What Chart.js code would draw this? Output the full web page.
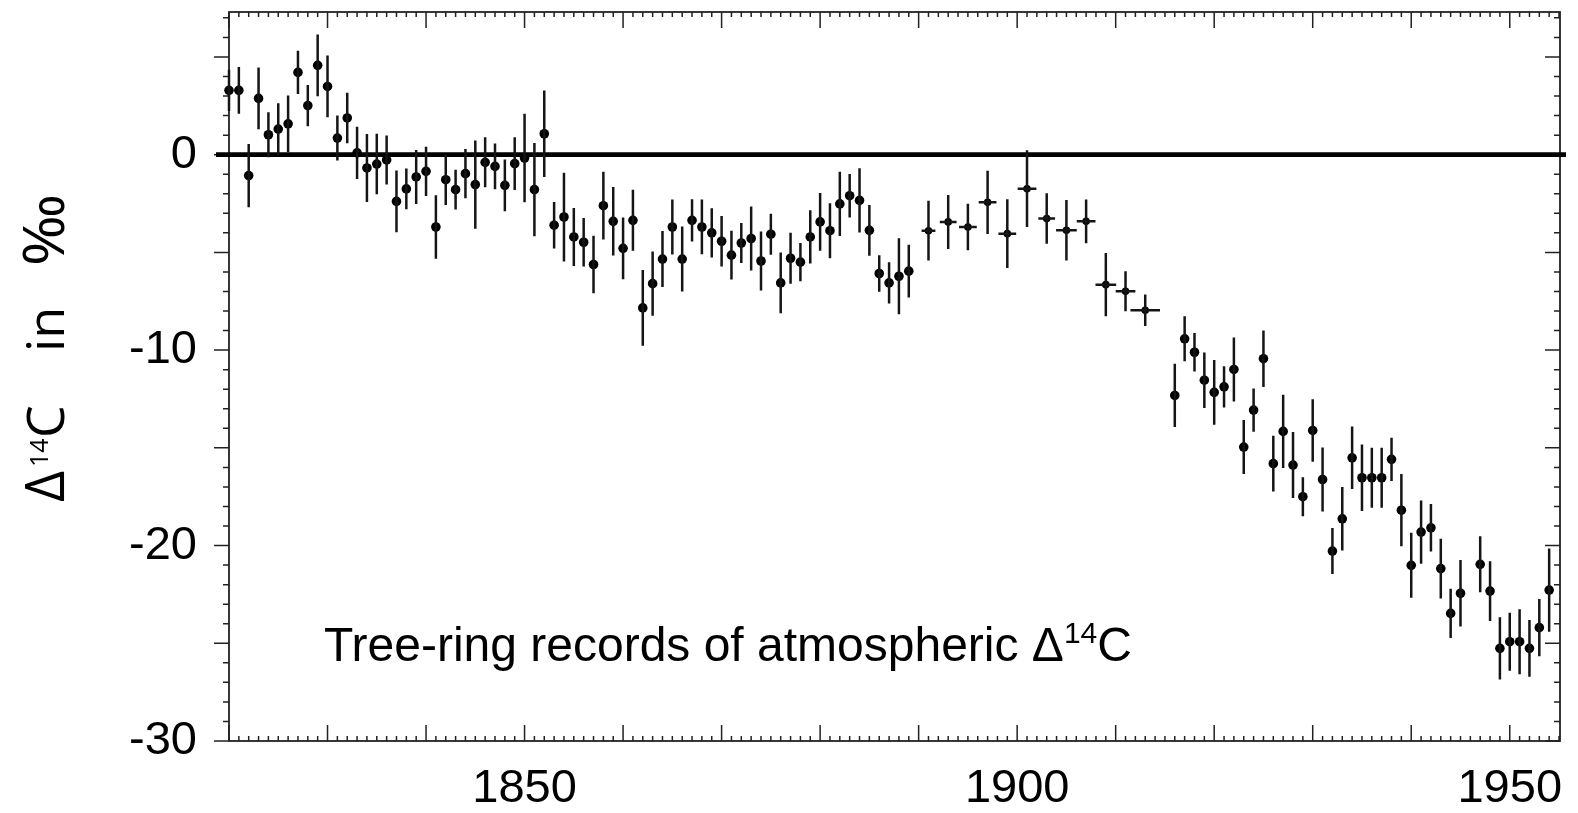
<!DOCTYPE html>
<html>
<head>
  <title>Tree-ring records of atmospheric D14C</title>
  <script src="https://cdn.jsdelivr.net/npm/chart.js"></script>
  <style>
    body { margin: 0; background: #fff; }
    #wrap { width: 1578px; height: 813px; position: relative; }
  </style>
</head>
<body>
  <div id="wrap"><canvas id="c14Chart"></canvas></div>

  <script>
    // Data (year, delta-14C in permil, 1-sigma)
    const years = [
      1820, 1821, 1822, 1823, 1824, 1825, 1826, 1827, 1828, 1829,
      1830, 1831, 1832, 1833, 1834, 1835, 1836, 1837, 1838, 1839,
      1840, 1841, 1842, 1843, 1844, 1845, 1846, 1847, 1848, 1849,
      1850, 1851, 1852, 1853, 1854, 1855, 1856, 1857, 1858, 1859,
      1860, 1861, 1862, 1863, 1864, 1865, 1866, 1867, 1868, 1869,
      1870, 1871, 1872, 1873, 1874, 1875, 1876, 1877, 1878, 1879,
      1880, 1881, 1882, 1883, 1884, 1885, 1886, 1887, 1888, 1889,
      1891, 1893, 1895, 1897, 1899, 1901, 1903, 1905, 1907, 1909, 1911, 1913,
      1916, 1917, 1918, 1919, 1920, 1921, 1922, 1923, 1924, 1925,
      1926, 1927, 1928, 1929, 1930, 1931, 1932, 1933, 1934, 1935,
      1936, 1937, 1938, 1939, 1940, 1941, 1942, 1943, 1944, 1945,
      1947, 1948, 1949, 1950, 1951, 1952, 1953, 1954
    ];
    const delta14C = [
      3.29, 3.29, -1.07, 2.88, 1.02, 1.31, 1.58, 4.21, 2.51, 4.57,
      3.49, 0.85, 1.88, 0.09, -0.68, -0.48, -0.27, -2.39, -1.75, -1.14,
      -0.85, -3.70, -1.28, -1.79, -0.97, -1.53, -0.39, -0.60, -1.57, -0.46,
      -0.17, -1.79, 1.07, -3.61, -3.19, -4.21, -4.48, -5.62, -2.61, -3.41,
      -4.79, -3.36, -7.84, -6.60, -5.34, -3.70, -5.34, -3.36, -3.70, -4.00,
      -4.43, -5.14, -4.52, -4.29, -5.44, -4.07, -6.56, -5.30, -5.50, -4.21,
      -3.44, -3.89, -2.52, -2.10, -2.34, -3.87, -6.08, -6.56, -6.22, -5.96,
      -3.89, -3.44, -3.70, -2.44, -4.04, -1.74, -3.27, -3.87, -3.41, -6.65, -6.99, -7.96,
      -12.32, -9.42, -10.11, -11.54, -12.16, -11.88, -10.99, -14.96, -13.07, -10.44,
      -15.81, -14.16, -15.88, -17.50, -14.11, -16.62, -20.28, -18.63, -15.51, -16.53,
      -16.53, -16.53, -15.59, -18.19, -21.01, -19.31, -19.09, -21.18, -23.47, -22.44,
      -20.96, -22.33, -25.26, -24.92, -24.92, -25.26, -24.20, -22.28
    ];
    const sigma = [
      1.06, 1.19, 1.62, 1.58, 1.15, 1.32, 1.45, 1.11, 1.06, 1.58,
      1.58, 1.15, 1.29, 1.34, 1.74, 1.55, 1.25, 1.58, 1.04, 1.38,
      1.26, 1.62, 1.30, 1.02, 1.26, 2.26, 1.28, 1.17, 1.32, 1.35,
      2.27, 2.39, 2.21, 1.19, 2.27, 1.48, 1.24, 1.47, 1.73, 1.75,
      1.58, 1.56, 1.94, 1.64, 1.43, 1.41, 1.66, 1.08, 1.40, 1.26,
      1.29, 1.25, 1.02, 1.64, 1.51, 1.05, 1.56, 1.30, 0.98, 1.36,
      1.48, 1.41, 1.64, 1.11, 1.64, 1.30, 0.94, 1.06, 1.94, 1.35,
      1.53, 1.38, 1.19, 1.62, 1.76, 1.96, 1.29, 1.55, 1.12, 1.62, 1.02, 0.81,
      1.62, 1.15, 0.98, 1.42, 1.66, 1.06, 1.64, 1.38, 1.11, 1.45,
      1.43, 1.87, 1.69, 1.00, 1.60, 1.64, 1.18, 1.62, 1.60, 1.70,
      1.53, 1.53, 1.11, 1.85, 1.66, 1.62, 1.22, 1.53, 1.26, 1.70,
      1.43, 1.53, 1.59, 1.48, 1.66, 1.45, 1.47, 2.13
    ];
    // multi-year samples: centre year and half the averaging span
    const avgYears = [1891, 1893, 1895, 1897, 1899, 1901, 1903, 1905, 1907, 1909, 1911, 1913];
    const avgHalfSpan = [0.7, 0.85, 0.9, 0.9, 0.9, 0.95, 0.85, 1.05, 0.95, 1.05, 1.0, 1.5];

    const xTickLabels = [1850, 1900, 1950];
    const yTickLabels = [-30, -20, -10, 0];

    const X_MIN = 1820, X_MAX = 1955.1;
    const Y_MIN = -30, Y_MAX = 7.3;
    const FONT = "'Liberation Sans', Arial, sans-serif";

    // error bars as broken line segments
    const bars = [];
    years.forEach((yr, i) => {
      const v = delta14C[i], e = sigma[i];
      bars.push({ x: yr, y: v - e }, { x: yr, y: v + e }, { x: yr, y: null });
      const k = avgYears.indexOf(yr);
      if (k >= 0) {
        bars.push({ x: yr - avgHalfSpan[k], y: v }, { x: yr + avgHalfSpan[k], y: v }, { x: yr, y: null });
      }
    });
    const points = years.map((yr, i) => ({ x: yr, y: delta14C[i] }));
    const radii = years.map(yr => avgYears.includes(yr) ? 3.8 : 4.8);

    // box, inward/outward ticks, zero line and texts
    const framePlugin = {
      id: 'frame',
      beforeDatasetsDraw(chart) {
        const { ctx, chartArea: a, scales: { x, y } } = chart;
        ctx.save();
        ctx.strokeStyle = '#222';
        ctx.lineWidth = 1.8;
        ctx.strokeRect(a.left, a.top, a.right - a.left, a.bottom - a.top);

        ctx.lineWidth = 1.5;
        ctx.beginPath();
        for (let yr = Math.ceil(x.min); yr <= x.max; yr++) {
          const px = x.getPixelForValue(yr);
          const len = yr % 10 === 0 ? 16 : 5;
          ctx.moveTo(px, a.bottom); ctx.lineTo(px, a.bottom - len);
          ctx.moveTo(px, a.top); ctx.lineTo(px, a.top + len);
        }
        for (let v = Math.ceil(y.min); v <= y.max; v++) {
          const py = y.getPixelForValue(v);
          const len = v % 5 === 0 ? 15 : 6;
          ctx.moveTo(a.left, py); ctx.lineTo(a.left - len, py);
          ctx.moveTo(a.right, py); ctx.lineTo(a.right - len, py);
        }
        ctx.stroke();

        // zero line, runs a bit past the box
        const y0 = y.getPixelForValue(0);
        ctx.strokeStyle = '#000';
        ctx.lineWidth = 4.6;
        ctx.beginPath();
        ctx.moveTo(a.left - 13, y0);
        ctx.lineTo(a.right + 6, y0);
        ctx.stroke();
        ctx.restore();
      },
      afterDraw(chart) {
        const { ctx, chartArea: a } = chart;
        ctx.save();
        ctx.fillStyle = '#000';
        ctx.textBaseline = 'alphabetic';
        ctx.textAlign = 'left';

        // annotation inside the plot
        let tx = a.left + 95, ty = a.bottom - 80;
        ctx.font = '48px ' + FONT;
        const t1 = 'Tree-ring records of atmospheric \u0394';
        ctx.fillText(t1, tx, ty);
        tx += ctx.measureText(t1).width;
        ctx.font = '30px ' + FONT;
        ctx.fillText('14', tx, ty - 18);
        tx += ctx.measureText('14').width;
        ctx.font = '48px ' + FONT;
        ctx.fillText('C', tx, ty);

        // y axis title, rotated, pieces placed along the text line
        ctx.translate(64, 502);
        ctx.rotate(-Math.PI / 2);
        const tf = "'Open Sans', sans-serif";
        ctx.font = '54px ' + tf;
        ctx.fillText('\u0394', 0, 0);
        ctx.font = '25px ' + tf;
        ctx.fillText('14', 35, -16);
        ctx.font = '52px ' + tf;
        ctx.fillText('C', 64, 0);
        ctx.fillText('in', 150, 0);
        const pw = ctx.measureText('\u2030').width;
        ctx.translate(236, 0);
        ctx.scale(72 / pw, 1.08);
        ctx.fillText('\u2030', 0, 0);
        ctx.restore();
      }
    };

    const ctx = document.getElementById('c14Chart').getContext('2d');
    const c14Chart = new Chart(ctx, {
      type: 'scatter',
      data: {
        datasets: [
          {
            label: 'error bars',
            data: bars,
            showLine: true,
            spanGaps: false,
            borderColor: '#151515',
            borderWidth: 2.5,
            pointRadius: 0,
            clip: false
          },
          {
            label: 'tree rings',
            data: points,
            backgroundColor: '#000',
            borderColor: '#000',
            borderWidth: 0,
            pointRadius: radii,
            clip: false
          }
        ]
      },
      options: {
        responsive: true,
        maintainAspectRatio: false,
        animation: false,
        devicePixelRatio: 1,
        layout: { padding: { left: 0, top: 12, right: 18, bottom: 0 } },
        plugins: {
          legend: { display: false },
          tooltip: { enabled: false }
        },
        scales: {
          x: {
            type: 'linear',
            min: X_MIN,
            max: X_MAX,
            afterBuildTicks: s => { s.ticks = xTickLabels.map(v => ({ value: v })); },
            afterFit: s => { s.height = 72; s.paddingLeft = 0; s.paddingRight = 0; },
            grid: { display: false, drawTicks: false },
            border: { display: false },
            ticks: {
              color: '#000',
              font: { family: FONT, size: 47 },
              padding: 20,
              maxRotation: 0,
              autoSkip: false,
              callback: v => String(v)
            }
          },
          y: {
            type: 'linear',
            min: Y_MIN,
            max: Y_MAX,
            afterBuildTicks: s => { s.ticks = yTickLabels.map(v => ({ value: v })); },
            afterFit: s => { s.width = 229; s.paddingTop = 0; s.paddingBottom = 0; },
            grid: { display: false, drawTicks: false },
            border: { display: false },
            ticks: {
              color: '#000',
              font: { family: FONT, size: 47 },
              padding: 32,
              autoSkip: false,
              callback: v => String(v)
            }
          }
        }
      },
      plugins: [framePlugin]
    });
  </script>
</body>
</html>
